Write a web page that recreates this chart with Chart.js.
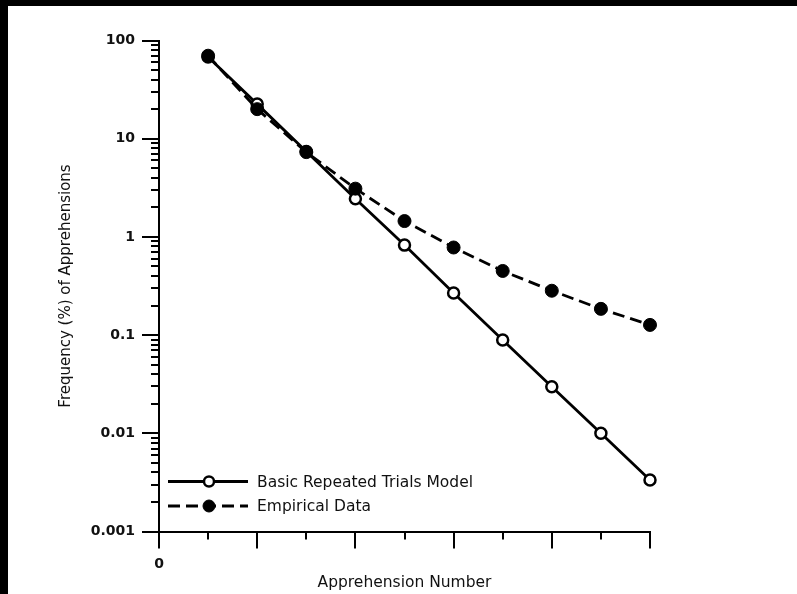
<!DOCTYPE html>
<html><head><meta charset="utf-8">
<script src="https://cdn.jsdelivr.net/npm/chart.js@4.4.1/dist/chart.umd.min.js"></script>
<style>html,body{margin:0;padding:0;background:#fff;}canvas{display:block;}</style>
</head><body>
<canvas id="c" width="797" height="594"></canvas>
<script>
const apprehensionNumbers = [1, 2, 3, 4, 5, 6, 7, 8, 9, 10];
const modelValues = [68, 22.5, 7.4, 2.45, 0.825, 0.268, 0.089, 0.0298, 0.0100, 0.00334];
const empiricalValues = [70, 20, 7.3, 3.1, 1.45, 0.78, 0.45, 0.283, 0.185, 0.127];
const seriesNames = ['Basic Repeated Trials Model', 'Empirical Data'];
const yDecades = [0.001, 0.01, 0.1, 1, 10, 100];
const yTickLabels = ['0.001', '0.01', '0.1', '1', '10', '100'];
const xTickValues = [0, 1, 2, 3, 4, 5, 6, 7, 8, 9, 10];
const xTickLabels = ['0', '', '', '', '', '', '', '', '', '', ''];
const xTitle = 'Apprehension Number';
const yTitle = 'Frequency (%) of Apprehensions';

const FONT = '"DejaVu Sans", Verdana, sans-serif';

const yTickList = [];
yDecades.forEach((d, i) => {
  yTickList.push({ value: d, major: true });
  if (i < yDecades.length - 1) {
    for (let k = 2; k <= 9; k++) yTickList.push({ value: d * k, major: false });
  }
});

const framePlugin = {
  id: 'frame',
  beforeDraw(chart) {
    const ctx = chart.ctx;
    ctx.save();
    ctx.fillStyle = '#ffffff';
    ctx.fillRect(0, 0, chart.width, chart.height);
    ctx.fillStyle = '#000000';
    ctx.fillRect(0, 0, chart.width, 6);
    ctx.fillRect(0, 0, 8, chart.height);
    ctx.restore();
  },
  afterDraw(chart) {
    const ctx = chart.ctx;
    const xs = chart.scales.x, ys = chart.scales.y;
    const ca = chart.chartArea;
    ctx.save();
    ctx.strokeStyle = '#000';
    ctx.lineWidth = 2;
    ctx.setLineDash([]);
    ys.ticks.forEach(t => {
      const py = Math.round(ys.getPixelForValue(t.value));
      const len = t.major ? 17 : 8;
      ctx.beginPath();
      ctx.moveTo(ca.left - len, py);
      ctx.lineTo(ca.left, py);
      ctx.stroke();
    });
    xTickValues.forEach(v => {
      const px = Math.round(xs.getPixelForValue(v));
      const len = (v % 2 === 0) ? 17 : 8;
      ctx.beginPath();
      ctx.moveTo(px, ca.bottom);
      ctx.lineTo(px, ca.bottom + len);
      ctx.stroke();
    });
    const rows = [ca.bottom - 50, ca.bottom - 25.5];
    [0, 1].forEach((di, r) => {
      const ds = chart.data.datasets[di];
      const y = rows[r];
      const x0 = ca.left + 9, x1 = ca.left + 89, xm = ca.left + 50;
      ctx.strokeStyle = ds.borderColor;
      ctx.lineWidth = ds.borderWidth;
      ctx.setLineDash(ds.borderDash || []);
      ctx.beginPath();
      ctx.moveTo(x0, y);
      ctx.lineTo(x1, y);
      ctx.stroke();
      ctx.setLineDash([]);
      ctx.beginPath();
      ctx.arc(xm, y, ds.pointRadius - 0.5, 0, Math.PI * 2);
      ctx.fillStyle = ds.pointBackgroundColor;
      ctx.fill();
      ctx.lineWidth = ds.pointBorderWidth;
      ctx.strokeStyle = ds.pointBorderColor;
      ctx.stroke();
      ctx.fillStyle = '#111';
      ctx.font = '15.5px ' + FONT;
      ctx.textBaseline = 'middle';
      ctx.textAlign = 'left';
      ctx.fillText(ds.label, ca.left + 98, y + 1);
    });
    ctx.restore();
  }
};

new Chart(document.getElementById('c'), {
  type: 'line',
  data: {
    datasets: [
      {
        label: seriesNames[0],
        data: apprehensionNumbers.map((x, i) => ({ x: x, y: modelValues[i] })),
        borderColor: '#000',
        borderWidth: 2.8,
        pointRadius: 5.5,
        pointBackgroundColor: '#fff',
        pointBorderColor: '#000',
        pointBorderWidth: 2.5,
        order: 1,
        clip: false,
        tension: 0
      },
      {
        label: seriesNames[1],
        data: apprehensionNumbers.map((x, i) => ({ x: x, y: empiricalValues[i] })),
        borderColor: '#000',
        borderWidth: 2.8,
        borderDash: [12, 6],
        pointRadius: 6.5,
        pointBackgroundColor: '#000',
        pointBorderColor: '#000',
        pointBorderWidth: 1,
        order: 0,
        clip: false,
        tension: 0
      }
    ]
  },
  options: {
    responsive: false,
    animation: false,
    devicePixelRatio: 1,
    layout: { padding: { left: 0, top: 40.5, right: 147, bottom: 0 } },
    plugins: { legend: { display: false }, tooltip: { enabled: false } },
    scales: {
      x: {
        type: 'linear',
        min: 0, max: 10,
        afterFit(s) { s.height = 62.5; },
        afterBuildTicks(s) { s.ticks = xTickValues.map(v => ({ value: v })); },
        grid: { display: true, drawOnChartArea: false, drawTicks: false },
        border: { display: true, color: '#000', width: 2 },
        ticks: {
          autoSkip: false, maxRotation: 0, padding: 24,
          color: '#111', font: { family: FONT, size: 14, weight: 'bold' },
          callback: (v) => { const i = xTickValues.indexOf(v); return i >= 0 ? xTickLabels[i] : ''; }
        },
        title: {
          display: true, text: xTitle, color: '#111',
          font: { family: FONT, size: 15.5 }, padding: { top: 0, bottom: 1.7 }
        }
      },
      y: {
        type: 'logarithmic',
        min: 0.001, max: 100,
        afterFit(s) { s.width = 159; },
        afterBuildTicks(s) { s.ticks = yTickList.map(t => ({ value: t.value, major: t.major })); },
        grid: { display: true, drawOnChartArea: false, drawTicks: false },
        border: { display: true, color: '#000', width: 2 },
        ticks: {
          autoSkip: false, padding: 24,
          color: '#111', font: { family: FONT, size: 14, weight: 'bold' },
          callback: (v) => { const i = yDecades.indexOf(v); return i >= 0 ? yTickLabels[i] : ''; }
        },
        title: {
          display: true, text: yTitle, color: '#111',
          font: { family: FONT, size: 15 }, padding: { top: 57, bottom: 0 }
        }
      }
    }
  },
  plugins: [framePlugin]
});
</script>
</body></html>
